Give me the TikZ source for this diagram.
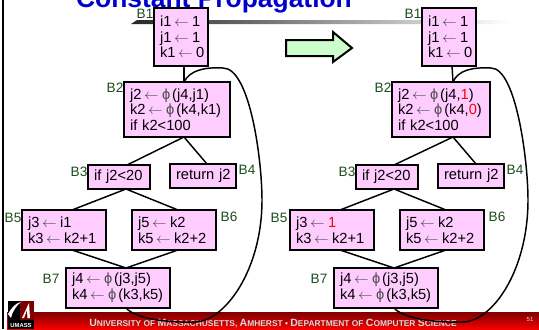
\documentclass[tikz,border=0pt]{standalone}
\usepackage{fontspec}
\setmainfont{Liberation Sans}
\definecolor{boxpink}{RGB}{255,204,255}
\definecolor{labelgreen}{RGB}{28,76,28}
\definecolor{arrowgreen}{RGB}{204,255,204}
\definecolor{titleblue}{RGB}{0,0,204}
\definecolor{footdark}{RGB}{125,0,0}
\definecolor{footlight}{RGB}{245,0,0}
\tikzset{every picture/.style={line width=0.75pt}}
\tikzset{
  blockbox/.style={draw,line width=1.5pt,fill=boxpink,anchor=north west,outer sep=0pt,inner xsep=4.5pt,inner ysep=0pt,font=\fontsize{11}{11.8}\selectfont,align=left},
  blocklabel/.style={text=labelgreen,inner sep=0pt,font=\fontsize{10.2}{10.2}\selectfont},
  edgeline/.style={line width=1.1pt},
  px/.style={xshift=#1*0.75pt}
}
\newcommand{\footcap}[2]{{\fontsize{7.9}{7.9}\selectfont #1}#2}
\newcommand{\rd}[1]{\textcolor{red}{#1}}
\newcommand{\asg}{\kern2pt\textcolor{black!70}{$\leftarrow$}\kern2.5pt}
\newcommand{\phif}{\textcolor{black!70}{ϕ}\kern1.5pt}
\begin{document}
\begin{tikzpicture}[x=0.75pt,y=0.75pt,yscale=-1,xscale=1]
\useasboundingbox (0,0) rectangle (539,329);

% Title and rule
\node (title) at (214,7.5) [anchor=base,inner sep=0pt,text=titleblue,font=\bfseries\fontsize{19.8}{19.8}\selectfont] {Constant Propagation};
\path[left color=black!85,right color=white] (131,24) -- (137,20) -- (510,20) -- (510,24) -- cycle;
\draw[line width=1.5pt] (3,0) -- (3,329);

% Footer
\path[top color=footdark,bottom color=footlight] (7,312) rectangle (539,329);
\node (footer) at (273,323) [inner sep=0pt,text=white!85!black,font=\fontsize{6.3}{6.3}\selectfont\bfseries] {\footcap{U}{NIVERSITY} OF \footcap{M}{ASSACHUSETTS}, \footcap{A}{MHERST} • \footcap{D}{EPARTMENT OF} \footcap{C}{OMPUTER} \footcap{S}{CIENCE}};
\node (pagenum) at (530,319) [inner sep=0pt,text=white!85!black,font=\fontsize{4.5}{4.5}\selectfont] {51};

% Logo
\fill[white] (8,301) rectangle (34,329);
\fill[black] (8,301) rectangle (22,320);
\fill[footdark] (20,301) rectangle (34,320);
\fill[white] (8,314) .. controls (12,307) and (16,303) .. (21,302) .. controls (17,305) and (13,310) .. (11,318) -- cycle;
\fill[white] (22,318) -- (29,303) -- (30,318) -- (27.5,318) -- (27,310) -- (24,318) -- cycle;
\fill[black] (8,320) rectangle (34,329);
\node (logotext) at (21,325) [inner sep=0pt,text=white,font=\bfseries\fontsize{4.4}{4.4}\selectfont] {UMASS};

% Fat arrow
\draw[line width=1.5pt,fill=arrowgreen] (286,40) -- (333,40) -- (333,32) -- (352,48) -- (333,62) -- (333,56) -- (286,56) -- cycle;

% Left blocks
\node (b1) at (154,8) [blockbox,text width=31.5pt,minimum height=43.5pt] {i1\asg 1\\j1\asg 1\\k1\asg 0};
\node (b2) at (124,82) [blockbox,text width=70.5pt,minimum height=41.25pt] {j2\asg\phif(j4,j1)\\k2\asg\phif(k4,k1)\\if k2<100};
\node (b3) at (88,165) [blockbox,text width=37.5pt,minimum height=18pt] {if~j2<20};
\node (b4) at (170,164) [blockbox,text width=40.5pt,minimum height=18pt] {return~j2};
\node (b5) at (22,210) [blockbox,text width=54pt,minimum height=30pt] {j3\asg i1\\k3\asg k2+1};
\node (b6) at (132,210) [blockbox,text width=54pt,minimum height=30pt] {j5\asg k2\\k5\asg k2+2};
\node (b7) at (66,268) [blockbox,text width=69pt,minimum height=30pt] {j4\asg\phif(j3,j5)\\k4\asg\phif(k3,k5)};

% Left labels
\node (lb1) at (145,14) [blocklabel] {B1};
\node (lb2) at (115,88) [blocklabel] {B2};
\node (lb3) at (79,172) [blocklabel] {B3};
\node (lb4) at (247,170) [blocklabel] {B4};
\node (lb5) at (13,218) [blocklabel] {B5};
\node (lb6) at (229,217) [blocklabel] {B6};
\node (lb7) at (51,279) [blocklabel] {B7};

% Left edges
\draw[edgeline] ([px=3]b1.south) -- ([px=7]b2.north);
\draw[edgeline] ([px=7]b2.south) -- ([px=8]b3.north);
\draw[edgeline] ([px=7]b2.south) -- ([px=4]b4.north);
\draw[edgeline] ([px=7]b3.south) -- ([px=8]b5.north);
\draw[edgeline] ([px=7]b3.south) -- ([px=4]b6.north);
\draw[edgeline] ([px=8]b5.south) -- ([px=8]b7.north);
\draw[edgeline] ([px=4]b6.south) -- ([px=8]b7.north);
\draw[edgeline] ([px=8]b7.south) .. controls (135,318) and (165,323) .. (195,322) .. controls (225,321) and (262,270) .. (262,200) .. controls (262,160) and (250,68) .. (223,68) .. controls (205,67) and (190,70) .. ([px=7]b2.north);

% Right blocks
\node (c1) at (422,8) [blockbox,text width=31.5pt,minimum height=43.5pt] {i1\asg 1\\j1\asg 1\\k1\asg 0};
\node (c2) at (392,82) [blockbox,text width=64.5pt,minimum height=41.25pt] {j2\asg\phif(j4,\rd{1})\\k2\asg\phif(k4,\rd{0})\\if k2<100};
\node (c3) at (356,165) [blockbox,text width=37.5pt,minimum height=18pt] {if~j2<20};
\node (c4) at (438,164) [blockbox,text width=40.5pt,minimum height=18pt] {return~j2};
\node (c5) at (290,210) [blockbox,text width=54pt,minimum height=30pt] {j3\asg\rd{1}\\k3\asg k2+1};
\node (c6) at (400,210) [blockbox,text width=54pt,minimum height=30pt] {j5\asg k2\\k5\asg k2+2};
\node (c7) at (334,268) [blockbox,text width=69pt,minimum height=30pt] {j4\asg\phif(j3,j5)\\k4\asg\phif(k3,k5)};

% Right labels
\node (lc1) at (413,14) [blocklabel] {B1};
\node (lc2) at (383,88) [blocklabel] {B2};
\node (lc3) at (347,172) [blocklabel] {B3};
\node (lc4) at (515,170) [blocklabel] {B4};
\node (lc5) at (279,218) [blocklabel] {B5};
\node (lc6) at (497,217) [blocklabel] {B6};
\node (lc7) at (319,279) [blocklabel] {B7};

% Right edges
\draw[edgeline] ([px=3]c1.south) -- ([px=12]c2.north);
\draw[edgeline] ([px=12]c2.south) -- ([px=7]c3.north);
\draw[edgeline] ([px=12]c2.south) -- ([px=5]c4.north);
\draw[edgeline] ([px=7]c3.south) -- ([px=8]c5.north);
\draw[edgeline] ([px=7]c3.south) -- ([px=4]c6.north);
\draw[edgeline] ([px=8]c5.south) -- ([px=8]c7.north);
\draw[edgeline] ([px=4]c6.south) -- ([px=8]c7.north);
\draw[edgeline] ([px=8]c7.south) .. controls (403,318) and (433,323) .. (463,322) .. controls (493,321) and (528,270) .. (528,200) .. controls (528,160) and (516,68) .. (491,68) .. controls (473,67) and (458,70) .. ([px=12]c2.north);
\end{tikzpicture}
\end{document}
